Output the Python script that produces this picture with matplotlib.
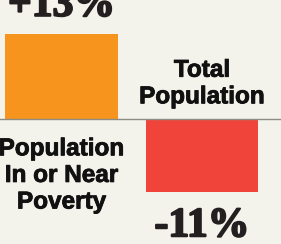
import matplotlib
matplotlib.use("Agg")
import matplotlib.pyplot as plt
import matplotlib.patheffects as pe

categories = ["Total\nPopulation", "Population\nIn or Near\nPoverty"]
values = [13, -11]
value_labels = ["+13%", "-11%"]
colors = ["#F7941E", "#F0433A"]
bg = "#F4F3EB"

fig = plt.figure(figsize=(2.81, 2.44), dpi=100, facecolor=bg)
ax = fig.add_axes([0, 0, 1, 1])
ax.set_facecolor(bg)

x = [0, 1]
ax.bar(x, values, width=0.804, color=colors, zorder=2)
ax.axhline(0, color="#8C8C84", lw=1.0, zorder=3)

ax.set_xlim(-0.4377, 1.5623)
ax.set_ylim(-18.86, 18.1)
ax.axis("off")

ink = "#231F20"
pct_font = dict(family=["Liberation Serif", "DejaVu Serif"], weight="bold", size=30, color=ink,
                path_effects=[pe.withStroke(linewidth=1.4, foreground=ink)])
lab_font = dict(family=["Liberation Sans", "DejaVu Sans"], weight="bold", size=17.5, color="#111111",
                linespacing=1.2, path_effects=[pe.withStroke(linewidth=0.6, foreground="#111111")])

# value labels
ax.text(x[0], values[0] + 2.7, value_labels[0], ha="center", va="baseline", **pct_font)
ax.text(x[1], values[1] - 2.3, value_labels[1], ha="center", va="top", **pct_font)

# category labels
ax.text(x[1], 2.45, categories[0], ha="center", va="baseline", **lab_font)
ax.text(x[0], -2.7, categories[1], ha="center", va="top", **lab_font)

fig.savefig("out.png", dpi=100, facecolor=bg)
